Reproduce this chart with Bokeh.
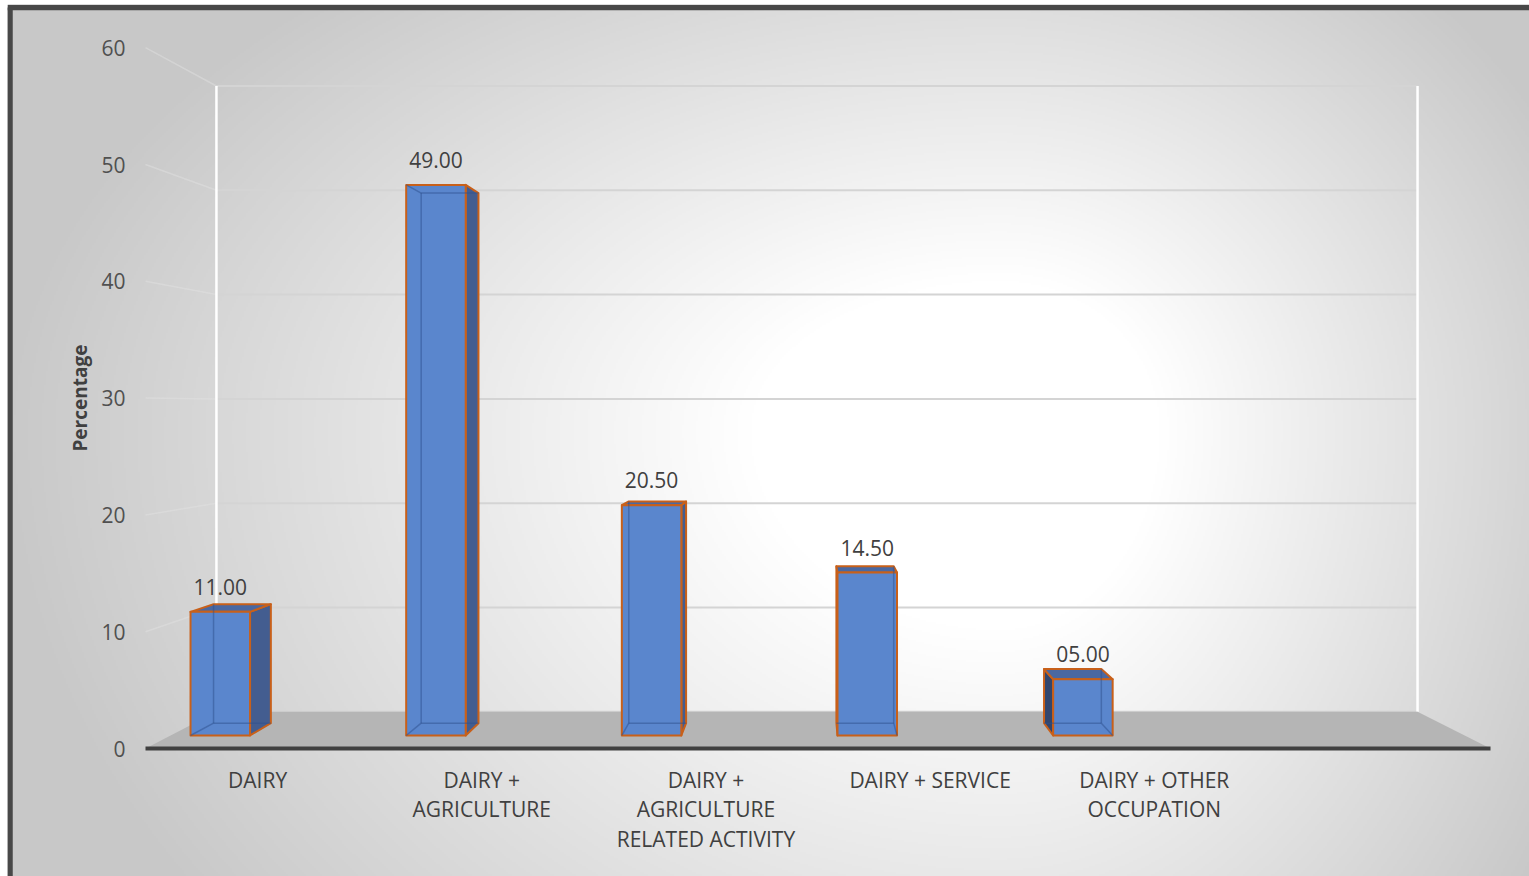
import math
import numpy as np
from bokeh.plotting import figure
from bokeh.models import Range1d
from bokeh.core.properties import value
from bokeh.embed import file_html
from bokeh.resources import INLINE

# ---- data ---------------------------------------------------------------
categories = [
    "DAIRY",
    "DAIRY +\nAGRICULTURE",
    "DAIRY +\nAGRICULTURE\nRELATED ACTIVITY",
    "DAIRY + SERVICE",
    "DAIRY + OTHER\nOCCUPATION",
    "",
]
percentages = [11.00, 49.00, 20.50, 14.50, 5.00]
value_labels = ["11.00", "49.00", "20.50", "14.50", "05.00"]
y_ticks = [0, 10, 20, 30, 40, 50, 60]
y_title = "Percentage"

# ---- canvas / scale set-up ------------------------------------------------
W, H = 1529, 876
LEFT_PAD, TOP_PAD = 7, 4
X0_PX = 145.0      # left end of the category axis (front edge of the floor)
CAT_PX = 224.17    # width of one category slot on the front edge
Y0_PX = 748.0      # value 0 on the front edge
UNIT_PX = 11.68    # pixels per percentage point on the front plane


def px_to_x(px):
    return (px - X0_PX) / CAT_PX


def py_to_y(py):
    return (Y0_PX - py) / UNIT_PX


# simple one-point perspective for the 3-D box
VX_PX, VY_PX = 808.0, 405.0
DEPTH_SHRINK = 0.107
vx, vy = px_to_x(VX_PX), py_to_y(VY_PX)
N_SLOTS = len(categories)
Y_MAX = y_ticks[-1]


def proj(x, v, z):
    s = 1.0 - DEPTH_SHRINK * z
    return vx + (x - vx) * s, vy + (v - vy) * s


x_range = Range1d(px_to_x(LEFT_PAD), px_to_x(W))
y_range = Range1d(py_to_y(H), py_to_y(TOP_PAD))

p = figure(width=W, height=H, x_range=x_range, y_range=y_range,
           x_axis_type=None, y_axis_type=None, toolbar_location=None,
           output_backend="svg", min_border_left=LEFT_PAD, min_border_top=TOP_PAD,
           min_border_right=0, min_border_bottom=0)
p.grid.visible = False
p.outline_line_color = None
p.border_fill_color = "white"
p.background_fill_color = "white"

# ---- radial grey-to-white chart background --------------------------------
nx, ny = 761, 436
cols = LEFT_PAD + (np.arange(nx) + 0.5) * (W - LEFT_PAD) / nx
rows = H - (np.arange(ny) + 0.5) * (H - TOP_PAD) / ny
PX, PY = np.meshgrid(cols, rows)
cx, cy = 1000.0, 430.0
dx = PX - cx
dy = PY - cy
rx = np.where(dx < 0, 1000.0, 640.0)
ry = np.where(dy < 0, 600.0, 800.0)
d = np.sqrt((dx / rx) ** 2 + (dy / ry) ** 2)
t = np.clip((d - 0.25) / 0.75, 0, 1)
g = (255 - 55 * t).astype(np.uint8)
img = np.empty((ny, nx), dtype=np.uint32)
view = img.view(dtype=np.uint8).reshape((ny, nx, 4))
view[..., 0] = g
view[..., 1] = g
view[..., 2] = g
view[..., 3] = 255
p.image_rgba(image=[img], x=x_range.start, y=y_range.start,
             dw=x_range.end - x_range.start, dh=y_range.end - y_range.start)

# ---- walls: gridlines on the back wall and the left side -------------------
for v in y_ticks:
    bx0, by0 = proj(0, v, 1)
    bx1, by1 = proj(N_SLOTS, v, 1)
    p.line([bx0, bx1], [by0, by1], line_color="#D4D4D4", line_width=2)
    if v > 0:
        fx, fy = proj(0, v, 0)
        p.line([fx, bx0], [fy, by0], line_color="#E2E2E2", line_width=1.5, line_alpha=0.45)

for xe in (0, N_SLOTS):
    ex0, ey0 = proj(xe, 0, 1)
    ex1, ey1 = proj(xe, Y_MAX, 1)
    p.line([ex0, ex1], [ey0, ey1], line_color="white", line_width=2.5)

# ---- floor and category axis ---------------------------------------------
floor = [proj(0, 0, 0), proj(N_SLOTS, 0, 0), proj(N_SLOTS, 0, 1), proj(0, 0, 1)]
p.patch([q[0] for q in floor], [q[1] for q in floor], fill_color="#B5B5B5", line_color=None)
p.line([0, N_SLOTS], [0, 0], line_color="#404040", line_width=4)

# ---- 3-D columns ------------------------------------------------------------
BAR_SHIFT = -0.27
HALF = 0.138
Z_FRONT, Z_BACK = 0.355, 0.69
FRONT_COL = "#5A86CD"
RIGHT_COL = "#435D90"
LEFT_COL = "#31466E"
TOP_COL = "#4A68A2"
EDGE_COL = "#C8601A"

for i, v in enumerate(percentages):
    c = i + 0.5 + BAR_SHIFT
    xl, xr = c - HALF, c + HALF
    P = {}
    for kx, xx in (("l", xl), ("r", xr)):
        for kv, vv in (("b", 0.0), ("t", v)):
            for kz, zz in (("f", Z_FRONT), ("k", Z_BACK)):
                P[kx + kv + kz] = proj(xx, vv, zz)
    faces = []
    if xr < vx:
        faces.append((["rbf", "rbk", "rtk", "rtf"], RIGHT_COL))
    if xl > vx:
        faces.append((["lbf", "lbk", "ltk", "ltf"], LEFT_COL))
    if v < vy:
        faces.append((["ltf", "rtf", "rtk", "ltk"], TOP_COL))
    faces.append((["lbf", "rbf", "rtf", "ltf"], FRONT_COL))

    visible_edges = set()
    for keys, _ in faces:
        for a, b in zip(keys, keys[1:] + keys[:1]):
            visible_edges.add(frozenset((a, b)))
    all_edges = []
    for a in P:
        for b in P:
            if a < b and sum(1 for u, w in zip(a, b) if u != w) == 1:
                all_edges.append(frozenset((a, b)))
    hidden = [tuple(e) for e in all_edges if e not in visible_edges]

    for keys, col in faces:
        p.patch([P[k][0] for k in keys], [P[k][1] for k in keys],
                fill_color=col, line_color=EDGE_COL, line_width=2, line_join="round")
    p.multi_line([[P[a][0], P[b][0]] for a, b in hidden],
                 [[P[a][1], P[b][1]] for a, b in hidden],
                 line_color="#2E4F8E", line_alpha=0.5, line_width=1.5)

# ---- value labels above the columns -----------------------------------------
lab_x, lab_y = [], []
for i, v in enumerate(percentages):
    c = i + 0.5 + BAR_SHIFT
    fx, fy = proj(c, v, Z_FRONT)
    lab_x.append(fx)
    lab_y.append(fy + 25 / UNIT_PX)
p.text(x=lab_x, y=lab_y, text=value_labels, text_font=value("Open Sans"),
       text_font_size="21px", text_color="#404040", text_align="center",
       text_baseline="middle")

# ---- value axis tick labels -------------------------------------------------
p.text(x=[-20 / CAT_PX] * len(y_ticks), y=y_ticks, text=[str(t) for t in y_ticks],
       text_font=value("Open Sans"), text_font_size="21px", text_color="#505050",
       text_align="right", text_baseline="middle")

# ---- category labels (one glyph row per text line) ---------------------------
cx_list, cy_list, ct_list = [], [], []
for i, name in enumerate(categories):
    for k, line in enumerate(name.split("\n")):
        if not line:
            continue
        cx_list.append(i + 0.5)
        cy_list.append(-(31 + 29.5 * k) / UNIT_PX)
        ct_list.append(line)
p.text(x=cx_list, y=cy_list, text=ct_list, text_font=value("Open Sans"),
       text_font_size="21px", text_color="#404040", text_align="center",
       text_baseline="middle")

# ---- value axis title ------------------------------------------------------
p.text(x=[-66 / CAT_PX], y=[Y_MAX / 2], text=[y_title], angle=math.pi / 2,
       text_font=value("Open Sans"), text_font_size="19px", text_font_style="bold",
       text_color="#404040", text_align="center", text_baseline="middle")

# ---- chart border (top and left edges) -------------------------------------
p.line([px_to_x(9.5), px_to_x(9.5)], [py_to_y(7), py_to_y(H)], line_color="#484848", line_width=5.5)
p.line([px_to_x(7), px_to_x(W)], [py_to_y(7), py_to_y(7)], line_color="#484848", line_width=5.5)

open("out.html", "w").write(file_html(p, INLINE))
